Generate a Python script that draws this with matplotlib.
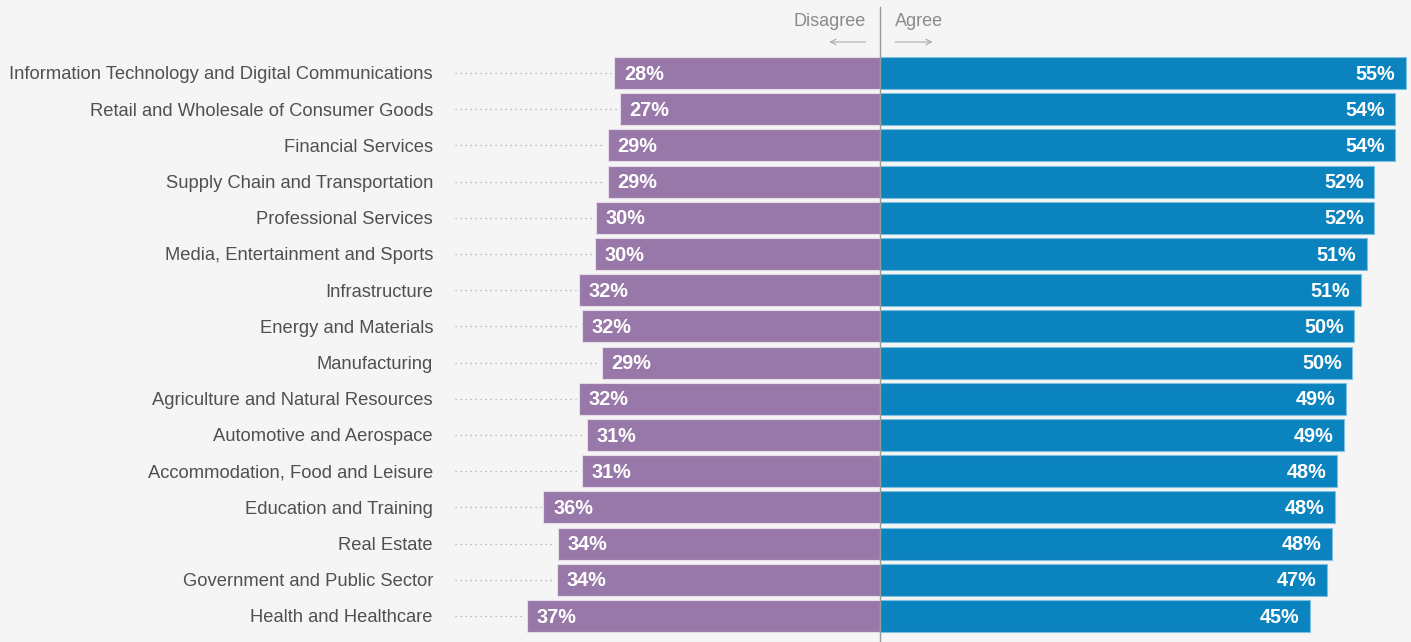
import numpy as np
import matplotlib
matplotlib.use("Agg")
import matplotlib.pyplot as plt

plt.rcParams['font.family'] = ['Liberation Sans', 'DejaVu Sans']

# ===== data =====
categories = [
    "Information Technology and Digital Communications",
    "Retail and Wholesale of Consumer Goods",
    "Financial Services",
    "Supply Chain and Transportation",
    "Professional Services",
    "Media, Entertainment and Sports",
    "Infrastructure",
    "Energy and Materials",
    "Manufacturing",
    "Agriculture and Natural Resources",
    "Automotive and Aerospace",
    "Accommodation, Food and Leisure",
    "Education and Training",
    "Real Estate",
    "Government and Public Sector",
    "Health and Healthcare",
]
# bar lengths as drawn
disagree = [27.8, 27.2, 28.5, 28.5, 29.7, 29.8, 31.5, 31.2,
            29.1, 31.5, 30.7, 31.2, 35.2, 33.7, 33.8, 36.9]
agree = [55.0, 53.9, 53.9, 51.7, 51.7, 50.9, 50.3, 49.6,
         49.4, 48.7, 48.5, 47.8, 47.6, 47.3, 46.8, 45.0]
# printed labels
disagree_labels = [28, 27, 29, 29, 30, 30, 32, 32, 29, 32, 31, 31, 36, 34, 34, 37]
agree_labels = [55, 54, 54, 52, 52, 51, 51, 50, 50, 49, 49, 48, 48, 48, 47, 45]

BG = "#f5f5f5"
PURPLE = "#9878a8"
BLUE = "#0a83bf"
GREY_TXT = "#505050"

W, H = 1411, 642
PX_PER = 9.56      # pixels per percentage point
CENTER = 880
ROW0, ROWSTEP = 73, 36.2

fig = plt.figure(figsize=(W / 100, H / 100), dpi=100, facecolor=BG)
ax = fig.add_axes([0, 0, 1, 1], facecolor=BG)
ax.set_xlim(-CENTER / PX_PER, (W - CENTER) / PX_PER)
ax.set_ylim((H - ROW0) / ROWSTEP, -ROW0 / ROWSTEP)
ax.axis('off')

y = np.arange(len(categories))
bh = 0.88

ax.barh(y, [-d for d in disagree], height=bh, color=PURPLE,
        edgecolor="#e6dcea", linewidth=0.8, zorder=2)
ax.barh(y, agree, height=bh, color=BLUE,
        edgecolor="#7fc0e0", linewidth=0.8, zorder=2)

label_x = (433 - CENTER) / PX_PER
dots_x = (455 - CENTER) / PX_PER
for i, cat in enumerate(categories):
    ax.text(label_x, i + 0.05, cat, ha='right', va='center', fontsize=13.2,
            color=GREY_TXT)
    ax.plot([dots_x, -disagree[i] - 0.3], [i, i], color="#a8a8a8",
            linestyle=(0, (1, 3)), linewidth=0.9, zorder=1)
    ax.text(-disagree[i] + 1.0, i + 0.03, f"{disagree_labels[i]}%", ha='left',
            va='center', fontsize=14.3, fontweight='bold', color='white', zorder=3)
    ax.text(agree[i] - 1.1, i + 0.03, f"{agree_labels[i]}%", ha='right',
            va='center', fontsize=14.3, fontweight='bold', color='white', zorder=3)

# centre line
top = (7 - ROW0) / ROWSTEP
ax.plot([0, 0], [top, (H - ROW0) / ROWSTEP], color="#999999",
        linewidth=1.0, zorder=4)

# header
hy = (21 - ROW0) / ROWSTEP
ay = (42 - ROW0) / ROWSTEP
ax.text(-1.5, hy, "Disagree", ha='right', va='center', fontsize=13,
        color="#8a8a8a")
ax.text(1.6, hy, "Agree", ha='left', va='center', fontsize=13,
        color="#8a8a8a")
ax.annotate("", xy=(-5.3, ay), xytext=(-1.5, ay),
            arrowprops=dict(arrowstyle='->', color="#aaaaaa", lw=0.8,
                            shrinkA=0, shrinkB=0))
ax.annotate("", xy=(5.5, ay), xytext=(1.6, ay),
            arrowprops=dict(arrowstyle='->', color="#aaaaaa", lw=0.8,
                            shrinkA=0, shrinkB=0))

fig.savefig("out.png", dpi=100, facecolor=BG)
